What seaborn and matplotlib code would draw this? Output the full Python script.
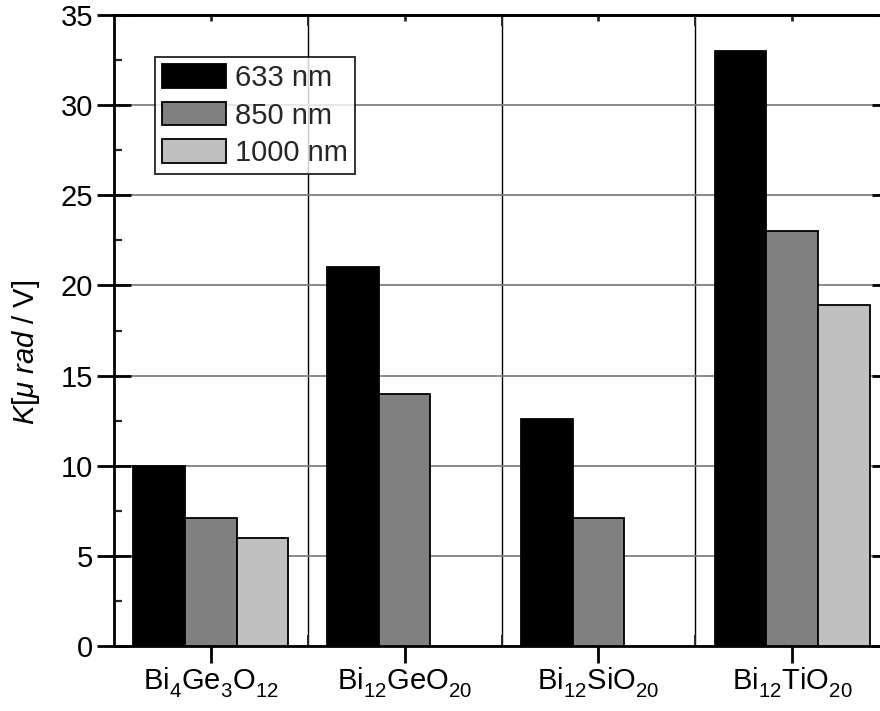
import matplotlib
matplotlib.use("Agg")
import matplotlib.pyplot as plt
from matplotlib.ticker import MultipleLocator, FixedLocator
import seaborn as sns
import pandas as pd

try:
    import matplotlib._mathtext as _mt
    _mt.FontConstantsBase.sub1 = 0.5
    _mt.FontConstantsBase.sub2 = 0.6
except Exception:
    pass

materials = [r"Bi$_{4}$Ge$_{3}$O$_{12}$", r"Bi$_{12}$GeO$_{20}$",
             r"Bi$_{12}$SiO$_{20}$", r"Bi$_{12}$TiO$_{20}$"]
wavelengths = ["633 nm", "850 nm", "1000 nm"]
k_633 = [10.0, 21.0, 12.6, 33.0]
k_850 = [7.1, 14.0, 7.1, 23.0]
k_1000 = [6.0, None, None, 18.9]
colors = ["#000000", "#808080", "#c0c0c0"]

rows = []
for wl, vals in zip(wavelengths, [k_633, k_850, k_1000]):
    for m, v in zip(materials, vals):
        if v is not None:
            rows.append({"material": m, "wavelength": wl, "K": v})
df = pd.DataFrame(rows)

sns.set_theme(style="white")
plt.rcParams["font.family"] = ["Liberation Sans", "DejaVu Sans"]
plt.rcParams["mathtext.fontset"] = "custom"
plt.rcParams["mathtext.rm"] = "Liberation Sans"
plt.rcParams["mathtext.it"] = "Liberation Sans:italic"
plt.rcParams["mathtext.bf"] = "Liberation Sans:bold"

W, H = 880, 711
fig = plt.figure(figsize=(W / 100, H / 100), dpi=100)
left, right, top, bottom = 114, 889, 15, 646
ax = fig.add_axes([left / W, (H - bottom) / H, (right - left) / W, (bottom - top) / H])

sns.barplot(data=df, x="material", y="K", hue="wavelength",
            order=materials, hue_order=wavelengths, palette=colors,
            saturation=1, width=0.8, edgecolor="black", linewidth=1.3,
            errorbar=None, ax=ax, zorder=3)

ax.set_xlim(-0.5, 3.5)
ax.set_ylim(0, 35)
ax.yaxis.set_major_locator(MultipleLocator(5))
ax.yaxis.set_minor_locator(MultipleLocator(2.5))
ax.xaxis.set_minor_locator(FixedLocator([0.5, 1.5, 2.5]))

ax.set_axisbelow(True)
ax.grid(False)
ax.yaxis.grid(True, which="major", color="#808080", linewidth=1.3, zorder=0)
ax.xaxis.grid(True, which="minor", color="black", linewidth=1.0, zorder=0)

for s in ax.spines.values():
    s.set_color("black")
    s.set_linewidth(2.0)
    s.set_visible(True)

fs = 21
ax.tick_params(axis="y", which="major", direction="inout", length=24, width=2,
               labelsize=fs, pad=3, left=True, right=True, colors="black")
ax.tick_params(axis="y", which="minor", direction="in", length=6, width=1.6,
               left=True, right=True)
ax.tick_params(axis="x", which="major", direction="inout", length=25, width=2,
               labelsize=fs, pad=1, bottom=True, top=False, colors="black")
ax.tick_params(axis="x", which="minor", direction="in", length=8, width=1.4,
               bottom=True, top=True)

sec = ax.secondary_xaxis("top")
sec.set_xticks(range(4))
sec.set_xticklabels([])
sec.tick_params(direction="in", length=4, width=2)
sec.spines["top"].set_linewidth(2.0)

ax.set_xlabel("")
ax.set_ylabel(r"$K$[$\mu\ rad$ / V]", fontsize=fs, color="black")
ax.yaxis.set_label_coords(-(114 - 42) / (right - left), 0.466)

leg = ax.legend(loc="upper left",
                bbox_to_anchor=((155 - left) / (right - left), (bottom - 57) / (bottom - top)),
                fontsize=fs, frameon=True, fancybox=False, edgecolor="black",
                borderpad=0.25, labelspacing=0.32, handlelength=2.2, handleheight=0.86,
                handletextpad=0.3, borderaxespad=0)
leg.get_frame().set_linewidth(1.4)
leg.set_title(None)

fig.savefig("out.png", dpi=100)
